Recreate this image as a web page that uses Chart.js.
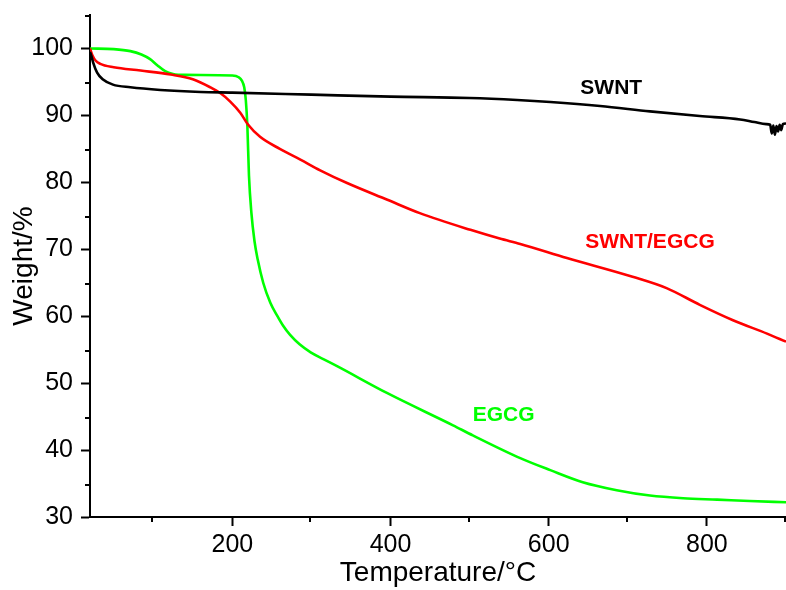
<!DOCTYPE html>
<html>
<head>
<meta charset="utf-8">
<script src="https://cdn.jsdelivr.net/npm/chart.js@4"></script>
<style>
  html, body { margin: 0; padding: 0; background: #fff; }
  #wrap { width: 786px; height: 590px; }
</style>
</head>
<body>
<div id="wrap"><canvas id="tga" width="786" height="590"></canvas></div>
<script>
// TGA curves (temperature in °C, weight in %)
const swntTemp = [20, 22, 24, 29, 36, 49, 71, 109, 160, 200, 300, 400, 500, 560, 602, 665, 728, 791, 842, 860, 875, 880, 882, 884, 886, 888, 890, 892, 894, 896, 900];
const swntWeight = [99.5, 98.8, 97.9, 96.4, 95.4, 94.6, 94.2, 93.8, 93.5, 93.4, 93.1, 92.8, 92.6, 92.3, 92.0, 91.4, 90.6, 89.9, 89.4, 89.0, 88.7, 88.6, 87.3, 88.5, 87.1, 88.4, 87.6, 88.6, 87.8, 88.7, 88.8];

const mixTemp = [20, 23, 27, 33, 50, 84, 122, 150, 172, 185, 197, 210, 220, 235, 260, 286, 311, 345, 396, 437, 501, 538, 564, 623, 706, 749, 791, 833, 876, 900];
const mixWeight = [100, 99, 98.2, 97.7, 97.2, 96.7, 96.1, 95.4, 94.2, 93.3, 92.1, 90.4, 88.6, 86.8, 85.0, 83.4, 81.8, 79.9, 77.4, 75.4, 72.9, 71.6, 70.8, 68.7, 65.9, 64.2, 61.7, 59.4, 57.4, 56.2];

const egcgTemp = [20, 50, 71, 85, 96, 105, 115, 125, 140, 200, 208, 212, 215, 217, 219, 221, 224, 228, 232, 239, 248, 257, 264, 273, 285, 299, 315, 333, 396, 479, 504, 564, 602, 643, 686, 728, 770, 813, 854, 900];
const egcgWeight = [100, 99.9, 99.6, 99.1, 98.4, 97.5, 96.6, 96.2, 96.05, 95.95, 95.7, 95.2, 94.2, 92.3, 88.3, 81, 75.5, 71.2, 68.5, 65.0, 62.0, 60.0, 58.6, 57.2, 55.8, 54.6, 53.6, 52.5, 48.5, 43.7, 42.2, 38.8, 37, 35.2, 34, 33.2, 32.8, 32.6, 32.4, 32.2];

const xMajor = [200, 400, 600, 800];
const xMinor = [100, 300, 500, 700, 900];
const yMajor = [30, 40, 50, 60, 70, 80, 90, 100];
const yMinor = [35, 45, 55, 65, 75, 85, 95, 105];

const curveNames = ['SWNT', 'SWNT/EGCG', 'EGCG'];
const curveColors = ['#000000', '#ff0000', '#00ff00'];
// where each curve name sits, in data units
const nameTemp = [679, 728, 543];
const nameWeight = [94.0, 71.1, 45.2];

const FONT = '"Liberation Sans", Arial, sans-serif';

const toPoints = (xs, ys) => xs.map((x, i) => ({ x, y: ys[i] }));

// short outward minor ticks + curve names
const extras = {
  id: 'extras',
  afterDraw(chart) {
    const { ctx, scales: { x, y } } = chart;
    ctx.save();
    ctx.strokeStyle = '#000';
    ctx.lineWidth = 2;
    ctx.beginPath();
    xMinor.forEach(v => {
      const px = Math.round(x.getPixelForValue(v)) - 1;
      ctx.moveTo(px, y.bottom);
      ctx.lineTo(px, y.bottom + 5);
    });
    yMinor.forEach(v => {
      const py = Math.round(y.getPixelForValue(v)) + 1;
      ctx.moveTo(x.left, py);
      ctx.lineTo(x.left - 5, py);
    });
    ctx.stroke();

    ctx.font = 'bold 21px ' + FONT;
    ctx.textAlign = 'center';
    ctx.textBaseline = 'middle';
    curveNames.forEach((name, i) => {
      ctx.fillStyle = curveColors[i];
      ctx.fillText(name, x.getPixelForValue(nameTemp[i]), y.getPixelForValue(nameWeight[i]));
    });
    ctx.restore();
  }
};

const lineStyle = (color) => ({
  borderColor: color,
  borderWidth: 2.6,
  pointRadius: 0,
  fill: false,
  cubicInterpolationMode: 'monotone'
});

new Chart(document.getElementById('tga'), {
  type: 'line',
  data: {
    datasets: [
      { label: 'SWNT', data: toPoints(swntTemp, swntWeight), ...lineStyle(curveColors[0]) },
      { label: 'SWNT/EGCG', data: toPoints(mixTemp, mixWeight), ...lineStyle(curveColors[1]) },
      { label: 'EGCG', data: toPoints(egcgTemp, egcgWeight), ...lineStyle(curveColors[2]) }
    ]
  },
  options: {
    responsive: false,
    animation: false,
    devicePixelRatio: 1,
    layout: { padding: { top: 15, right: 0, left: 0, bottom: 0 } },
    plugins: { legend: { display: false }, tooltip: { enabled: false } },
    scales: {
      x: {
        type: 'linear',
        min: 20,
        max: 900,
        afterBuildTicks: s => { s.ticks = xMajor.map(v => ({ value: v })); },
        afterFit: s => { s.height = 73; s.paddingLeft = 0; s.paddingRight = 0; },
        border: { display: true, color: '#000', width: 2 },
        grid: { drawOnChartArea: false, drawTicks: true, tickLength: 9, tickWidth: 2, tickColor: '#000' },
        ticks: { color: '#000', padding: 4, maxRotation: 0, font: { family: FONT, size: 25, lineHeight: 1.2 } },
        title: {
          display: true,
          text: 'Temperature/°C',
          color: '#000',
          padding: { top: 0, bottom: 0 },
          font: { family: FONT, size: 28, lineHeight: 1.2 }
        }
      },
      y: {
        type: 'linear',
        min: 30,
        max: 105,
        afterBuildTicks: s => { s.ticks = yMajor.map(v => ({ value: v })); },
        afterFit: s => { s.width = 90; s.paddingTop = 0; s.paddingBottom = 0; },
        border: { display: true, color: '#000', width: 2 },
        grid: { drawOnChartArea: false, drawTicks: true, tickLength: 9, tickWidth: 2, tickColor: '#000' },
        ticks: { color: '#000', padding: 8, font: { family: FONT, size: 25, lineHeight: 1.2 } },
        title: {
          display: true,
          text: 'Weight/%',
          color: '#000',
          padding: { top: 7, bottom: 0 },
          font: { family: FONT, size: 28, lineHeight: 1.2 }
        }
      }
    }
  },
  plugins: [extras]
});
</script>
</body>
</html>
